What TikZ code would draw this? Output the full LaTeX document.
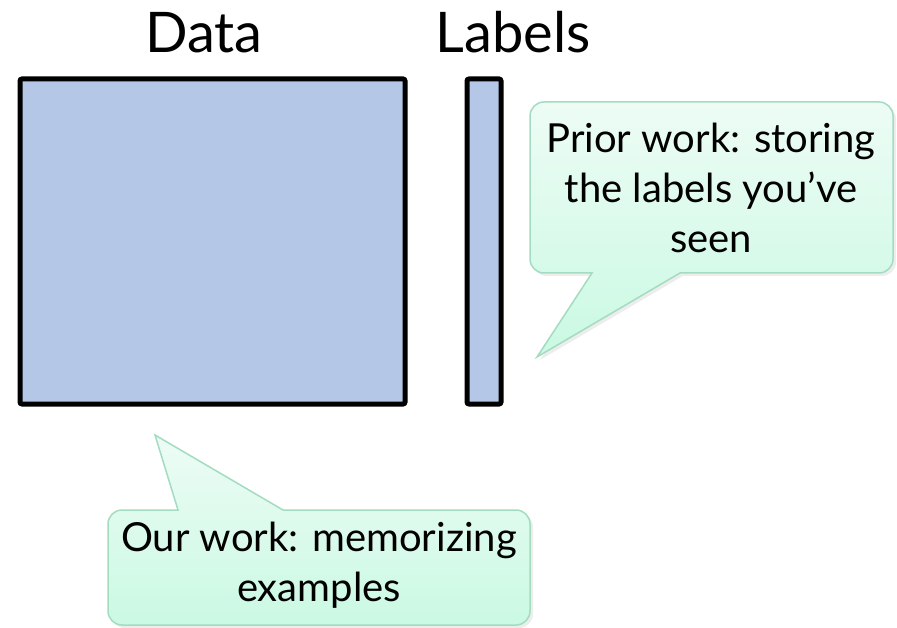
\documentclass[tikz,border=0pt]{standalone}
\usepackage{fontspec}
\setmainfont{Lato}
\definecolor{boxblue}{HTML}{B4C7E7}
\definecolor{mintTop}{HTML}{EDFCF5}
\definecolor{mintBottom}{HTML}{CAF9E3}
\definecolor{mintEdge}{HTML}{A3DCC1}
\tikzset{
  block/.style={draw=black, line width=5pt, fill=boxblue, rounded corners=2pt},
  title/.style={anchor=base, font=\fontsize{56}{60}\selectfont},
  bubble/.style={draw=mintEdge, line width=1.5pt, top color=mintTop, bottom color=mintBottom},
  bubbleshadow/.style={fill=black, opacity=0.07},
  bubbletext/.style={align=center, font=\fontsize{40}{50}\selectfont, inner sep=0pt}
}
\begin{document}
\begin{tikzpicture}[x=1pt,y=-1pt]
\useasboundingbox (0,0) rectangle (897,628);

% the data matrix and the label column
\draw[block] (20,79) rectangle (405,404);
\draw[block] (467,79) rectangle (501,404);
\node[title] (datatitle) at (204,53) {Data};
\node[title] (labeltitle) at (513,53) {Labels};

% speech bubble pointing at the label column
\path[bubbleshadow] (714,105) [rounded corners=14pt] -- (533,105) -- (533,276) -- (563,276) [sharp corners] -- (595,276) -- (540,360) -- (683,276) -- (703,276) [rounded corners=14pt] -- (896,276) -- (896,105) -- cycle;
\path[bubble] (711,102) [rounded corners=14pt] -- (530,102) -- (530,273) -- (560,273) [sharp corners] -- (592,273) -- (537,357) -- (680,273) -- (700,273) [rounded corners=14pt] -- (893,273) -- (893,102) -- cycle;
\node[bubbletext] (prior) at (711,188) {Prior work: storing\\the labels you’ve\\seen};

% speech bubble pointing at the data matrix
\path[bubbleshadow] (321,628) [rounded corners=14pt] -- (111,628) -- (111,513) -- (141,513) [sharp corners] -- (181,513) -- (158,438) -- (286,513) -- (306,513) [rounded corners=14pt] -- (533,513) -- (533,628) -- cycle;
\path[bubble] (318,625) [rounded corners=14pt] -- (108,625) -- (108,510) -- (138,510) [sharp corners] -- (178,510) -- (155,435) -- (283,510) -- (303,510) [rounded corners=14pt] -- (530,510) -- (530,625) -- cycle;
\node[bubbletext] (ours) at (319,565) {Our work: memorizing\\examples};
\end{tikzpicture}
\end{document}
